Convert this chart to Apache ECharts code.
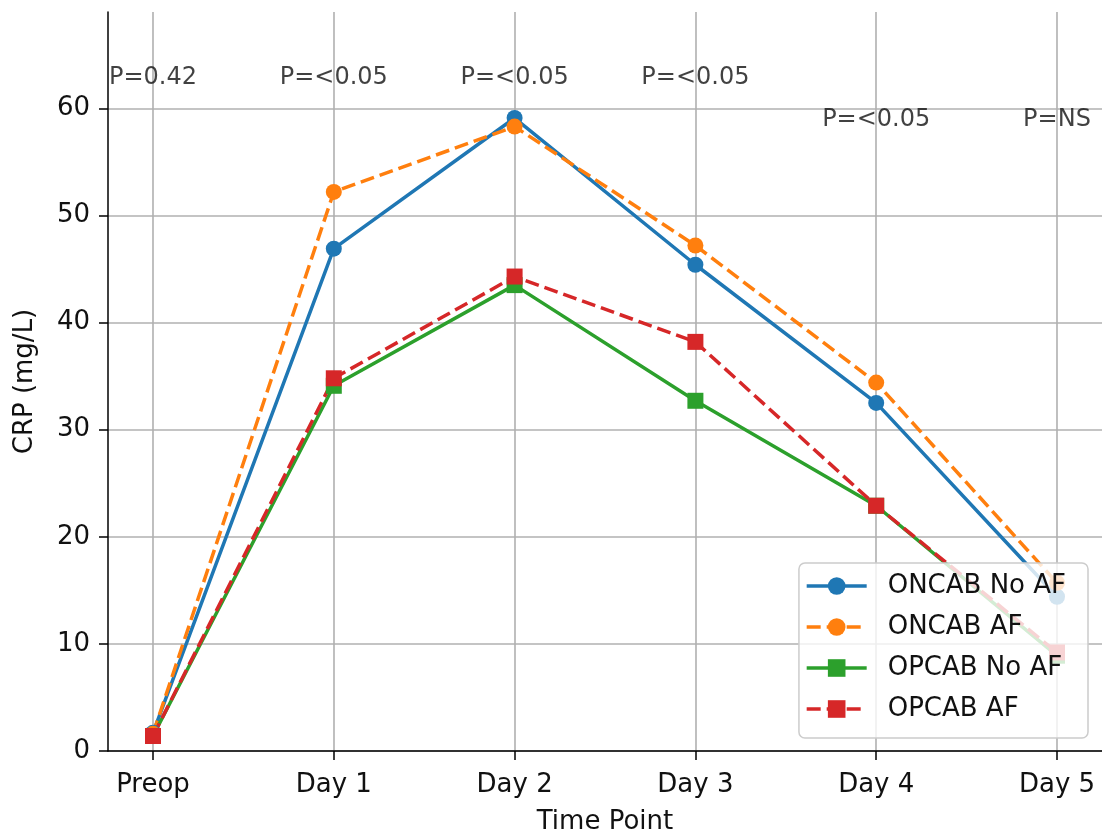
<!DOCTYPE html>
<html>
<head>
<meta charset="utf-8">
<script src="https://cdn.jsdelivr.net/npm/echarts@6/dist/echarts.min.js"></script>
<style>
  html, body { margin: 0; padding: 0; background: #fff; }
  #myChart { width: 1102px; height: 836px; }
</style>
</head>
<body>
<div id="myChart"></div>
<script>
  // time points
  let timePoints = ['Preop', 'Day 1', 'Day 2', 'Day 3', 'Day 4', 'Day 5'];
  let yTicks = [0, 10, 20, 30, 40, 50, 60];
  // CRP (mg/L) per group
  let oncabNoAf = [1.7, 46.9, 59.1, 45.4, 32.5, 14.4];
  let oncabAf = [1.6, 52.2, 58.3, 47.2, 34.4, 15.7];
  let opcabNoAf = [1.4, 34.1, 43.5, 32.7, 22.9, 8.9];
  let opcabAf = [1.4, 34.8, 44.3, 38.2, 22.9, 9.2];
  // p-value annotations
  let pTexts = ['P=0.42', 'P=<0.05', 'P=<0.05', 'P=<0.05', 'P=<0.05', 'P=NS'];
  let pY = [62.9, 62.9, 62.9, 62.9, 58.9, 58.9];

  let font = 'DejaVu Sans';
  let txt = '#111';
  let myChart = echarts.init(document.getElementById('myChart'));

  function lineSeries(name, data, color, symbol, dashed) {
    return {
      name: name,
      type: 'line',
      xAxisIndex: 0,
      yAxisIndex: 0,
      data: data,
      symbol: symbol,
      symbolSize: 16,
      showSymbol: true,
      animation: false,
      itemStyle: { color: color },
      lineStyle: { color: color, width: 3.5, type: dashed ? [14, 6] : 'solid' }
    };
  }

  let option = {
    animation: false,
    grid: [
      { left: 153, right: 45, top: 12, bottom: 85, outerBoundsMode: 'none', containLabel: false },
      { left: 108, right: 0, top: 12, bottom: 85, outerBoundsMode: 'none', containLabel: false }
    ],
    xAxis: [{
      type: 'category',
      gridIndex: 0,
      boundaryGap: false,
      data: timePoints,
      axisLine: { show: false },
      axisTick: { show: true, length: 9, lineStyle: { color: '#000', width: 1.5 } },
      axisLabel: { color: txt, fontSize: 26, fontFamily: font, margin: 21 },
      splitLine: { show: true, lineStyle: { color: '#b0b0b0', width: 1.6 } }
    }, {
      type: 'value',
      gridIndex: 1,
      min: 0,
      max: 1,
      axisLine: { show: true, lineStyle: { color: '#000', width: 1.5 } },
      axisTick: { show: false },
      axisLabel: { show: false },
      splitLine: { show: false },
      name: 'Time Point',
      nameLocation: 'middle',
      nameGap: 58,
      nameTextStyle: { color: txt, fontSize: 26, fontFamily: font }
    }],
    yAxis: [{
      type: 'value',
      gridIndex: 0,
      min: 0,
      max: 69,
      show: false
    }, {
      type: 'value',
      gridIndex: 1,
      min: 0,
      max: 69,
      interval: 10,
      axisLine: { show: true, lineStyle: { color: '#000', width: 1.5 } },
      axisTick: { show: true, length: 9, customValues: yTicks, lineStyle: { color: '#000', width: 1.5 } },
      axisLabel: {
        color: txt, fontSize: 26, fontFamily: font, margin: 18,
        customValues: yTicks
      },
      splitLine: { show: true, lineStyle: { color: '#b0b0b0', width: 1.6 } },
      name: 'CRP (mg/L)',
      nameLocation: 'middle',
      nameGap: 70,
      nameTextStyle: { color: txt, fontSize: 26, fontFamily: font }
    }],
    legend: {
      data: ['ONCAB No AF', 'ONCAB AF', 'OPCAB No AF', 'OPCAB AF'],
      orient: 'vertical',
      right: 14,
      bottom: 98,
      itemWidth: 60,
      itemHeight: 22,
      itemGap: 11,
      padding: [8, 22, 14, 6],
      backgroundColor: 'rgba(255,255,255,0.8)',
      borderColor: '#cccccc',
      borderWidth: 1.5,
      borderRadius: 6,
      lineStyle: { width: 3.5 },
      textStyle: { color: txt, fontSize: 26, fontFamily: font, lineHeight: 30, padding: [0, 0, 0, 16] }
    },
    series: [
      lineSeries('ONCAB No AF', oncabNoAf, '#1f77b4', 'circle', false),
      lineSeries('ONCAB AF', oncabAf, '#ff7f0e', 'circle', true),
      lineSeries('OPCAB No AF', opcabNoAf, '#2ca02c', 'rect', false),
      lineSeries('OPCAB AF', opcabAf, '#d62728', 'rect', true),
      {
        name: 'pvalues',
        type: 'scatter',
        xAxisIndex: 0,
        yAxisIndex: 0,
        symbolSize: 0,
        silent: true,
        data: pY.map(function (y, i) { return { value: [i, y], name: pTexts[i] }; }),
        label: {
          show: true,
          position: 'inside',
          formatter: function (p) { return p.name; },
          color: txt,
          fontSize: 24,
          fontFamily: font
        }
      }
    ]
  };

  myChart.setOption(option);
</script>
</body>
</html>
